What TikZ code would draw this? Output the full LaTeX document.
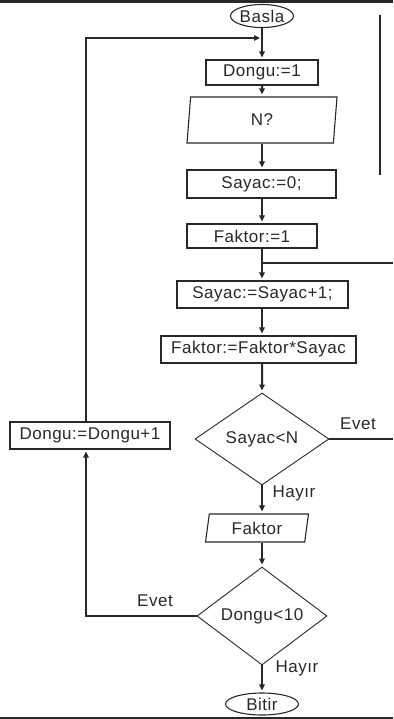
\documentclass[tikz,border=0pt]{standalone}
\usepackage{fontspec}
\setmainfont{Liberation Sans}[LetterSpace=3]
\usetikzlibrary{shapes.geometric,arrows.meta,calc}
\definecolor{ink}{RGB}{40,40,40}
\begin{document}
\begin{tikzpicture}[x=1pt,y=-1pt,
  every node/.style={font=\fontsize{17}{20}\selectfont, text=ink},
  proc/.style={draw=ink, line width=1.1pt, rectangle, inner sep=0pt, fill=white},
  term/.style={draw=ink, line width=1.1pt, ellipse, inner sep=0pt},
  io/.style={draw=ink, line width=1.1pt, trapezium, trapezium left angle=73,
    trapezium right angle=107, trapezium stretches body, inner sep=0pt},
  decision/.style={draw=ink, line width=0.9pt, diamond, inner sep=0pt},
  flow/.style={draw=ink, line width=2pt, -{Triangle[length=6pt,width=5.5pt]}, shorten >=2pt},
  wire/.style={draw=ink, line width=2pt},
  lbl/.style={inner sep=0pt}
]
\useasboundingbox (0,0) rectangle (393,719);
% frame lines at top and bottom
\fill[ink] (0,0) rectangle (393,3);
\fill[ink] (0,716.5) rectangle (393,719);
% side mark on the right
\draw[ink, line width=1.3pt] (380,15) -- (380,175);

% nodes
\node[term, minimum width=58, minimum height=23] (basla) at (262,16) {Basla};
\node[proc, minimum width=112, minimum height=25] (d1) at (262,72.5) {Dongu:=1};
\node[io, minimum width=150, minimum height=46] (n) at (262,120) {N?};
\node[proc, minimum width=149, minimum height=28] (s0) at (261.5,184) {Sayac:=0;};
\node[proc, minimum width=130, minimum height=24] (f1) at (252,236) {Faktor:=1};
\node[proc, minimum width=171, minimum height=27] (sp) at (262.5,294.5) {Sayac:=Sayac+1;};
\node[proc, minimum width=195, minimum height=27] (fs) at (258.5,349.5) {Faktor:=Faktor*Sayac};
\node[decision, minimum width=134, minimum height=92] (q1) at (262,439) {Sayac<N};
\node[proc, minimum width=160, minimum height=27] (dd) at (90,435.5) {Dongu:=Dongu+1};
\node[io, minimum width=103, minimum height=28] (fk) at (257,528) {Faktor};
\node[decision, minimum width=130, minimum height=90] (q2) at (262,616) {Dongu<10};
\node[term, minimum width=73, minimum height=22] (bitir) at (262,704) {Bitir};

% junction points
\coordinate (jtop) at (262,38);
\coordinate (jmid) at (262,263);
\coordinate (loopx) at (86,38);
\coordinate (evetend) at (393,439);
\coordinate (jend) at (393,263);

% connectors
\draw[flow] (basla.south) -- (d1.north);
\draw[flow] (d1.south) -- (n.north);
\draw[flow] (n.south) -- (s0.north -| n.south);
\draw[flow] (s0.south -| n.south) -- (f1.north -| n.south);
\draw[flow] (f1.south -| n.south) -- (sp.north -| n.south);
\draw[wire] (jmid) -- (jend);
\draw[flow] (sp.south -| n.south) -- (fs.north -| n.south);
\draw[flow] (fs.south -| n.south) -- (q1.north);
\draw[flow] (q1.south) -- (fk.north -| q1.south);
\draw[flow] (fk.south -| q1.south) -- (q2.north);
\draw[flow] (q2.south) -- (bitir.north);
\draw[wire] (q1.east) -- (evetend);
\draw[flow] (q2.west) -- (q2.west -| loopx) -- (dd.south -| loopx);
\draw[flow] (dd.north -| loopx) -- (loopx) -- (jtop);

% branch labels
\node[lbl] (e1) at (358,424) {Evet};
\node[lbl] (h1) at (294,493) {Hayır};
\node[lbl] (e2) at (155,601) {Evet};
\node[lbl] (h2) at (297,668) {Hayır};
\end{tikzpicture}
\end{document}
